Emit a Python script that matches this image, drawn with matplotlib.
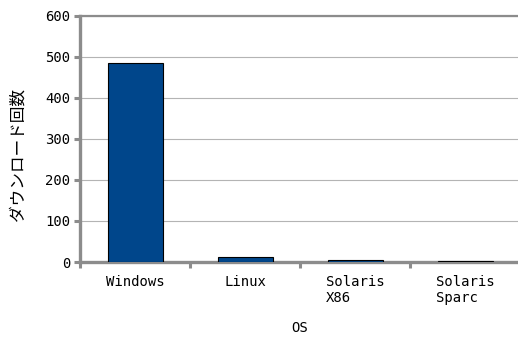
import numpy as np
import matplotlib.pyplot as plt

plt.rcParams['font.family'] = ['DejaVu Sans Mono', 'Noto Sans CJK JP']

# data
os_names = ['Windows', 'Linux', 'Solaris\nX86', 'Solaris\nSparc']
downloads = [485, 13, 4, 3]
y_ticks = [0, 100, 200, 300, 400, 500, 600]

fig = plt.figure(figsize=(5.18, 3.38), dpi=100)
ax = fig.add_axes([80 / 518, 76 / 338, 440 / 518, 246 / 338])

x = np.arange(len(os_names))
ax.bar(x, downloads, 0.5, color='#00468b', edgecolor='black', linewidth=0.8, zorder=3)

ax.set_xlim(-0.5, len(os_names) - 0.5)
ax.set_ylim(0, 600)
ax.set_yticks(y_ticks)
ax.yaxis.grid(True, color='#b4b4b4', linewidth=0.8, zorder=0)

# ticks at category boundaries on x, labels at centres
ax.set_xticks(np.arange(len(os_names) + 1) - 0.5)
ax.set_xticklabels([])
ax.set_xticks(x, minor=True)
ax.set_xticklabels(os_names, minor=True, fontsize=10, ha='center',
                   multialignment='left')
ax.tick_params(axis='x', which='minor', length=0, pad=9)
ax.tick_params(axis='x', which='major', length=4, width=2.2, color='#8c8c8c')
ax.tick_params(axis='y', length=4, width=2.2, color='#8c8c8c', labelsize=10, pad=3)

for side in ['left', 'bottom']:
    ax.spines[side].set_color('#8c8c8c')
    ax.spines[side].set_linewidth(2.4)
ax.spines['top'].set_color('#8c8c8c')
ax.spines['top'].set_linewidth(1.6)
ax.spines['right'].set_visible(False)

ax.set_xlabel('OS', fontsize=10, labelpad=12)
ax.set_ylabel('ダウンロード回数', fontsize=12, family='Noto Sans CJK JP')
ax.yaxis.set_label_coords(-0.122, 0.435)

fig.savefig('out.png', dpi=100)
